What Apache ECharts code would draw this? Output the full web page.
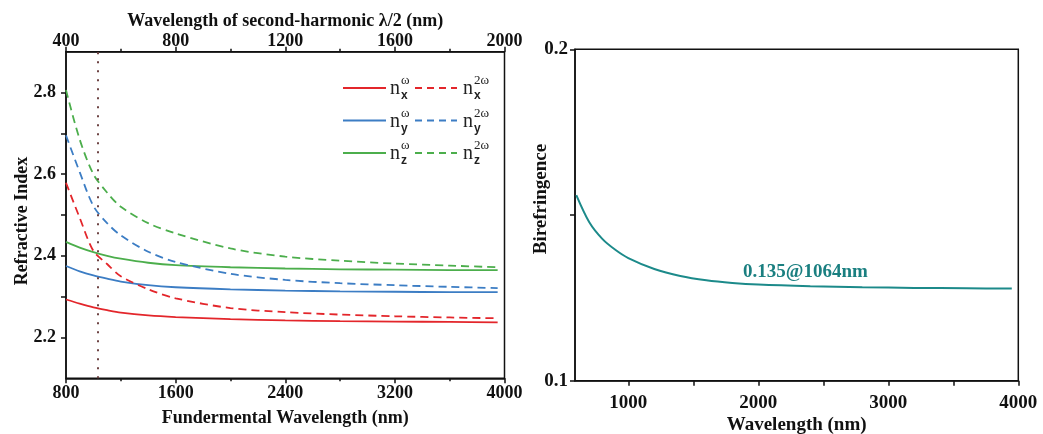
<!DOCTYPE html>
<html>
<head>
<meta charset="utf-8">
<script src="https://cdn.jsdelivr.net/npm/echarts@6/dist/echarts.min.js"></script>
<style>
  html, body { margin: 0; padding: 0; background: #fff; }
  #main { width: 1043px; height: 434px; }
</style>
</head>
<body>
<div id="main"></div>
<script>
// fundamental wavelength (nm), left panel
var wl = [800, 900, 1000, 1100, 1200, 1400, 1600, 2000, 2400, 2800, 3200, 3600, 3950];
var nxW  = [2.293, 2.283, 2.274, 2.267, 2.261, 2.254, 2.250, 2.245, 2.242, 2.240, 2.239, 2.238, 2.237];
var nyW  = [2.375, 2.362, 2.352, 2.344, 2.337, 2.328, 2.323, 2.318, 2.315, 2.313, 2.312, 2.311, 2.311];
var nzW  = [2.434, 2.420, 2.409, 2.400, 2.393, 2.383, 2.377, 2.372, 2.369, 2.367, 2.366, 2.365, 2.365];
var nx2W = [2.579, 2.493, 2.412, 2.380, 2.350, 2.318, 2.296, 2.272, 2.262, 2.256, 2.252, 2.249, 2.247];
var ny2W = [2.695, 2.605, 2.522, 2.480, 2.450, 2.410, 2.385, 2.356, 2.341, 2.333, 2.328, 2.324, 2.321];
var nz2W = [2.806, 2.685, 2.600, 2.555, 2.520, 2.480, 2.455, 2.418, 2.398, 2.388, 2.381, 2.376, 2.372];
var markWl = 1035;

var leftYLabels = [2.2, 2.4, 2.6, 2.8];
var leftYTicks = [2.2, 2.3, 2.4, 2.5, 2.6, 2.7, 2.8];

// birefringence, right panel
var wl2 = [600, 700, 800, 900, 1000, 1200, 1400, 1600, 1800, 2000, 2400, 2800, 3200, 3600, 3950];
var biref = [0.156, 0.1478, 0.1428, 0.1395, 0.1370, 0.1337, 0.1316, 0.1303, 0.1295, 0.1290, 0.1285, 0.1282, 0.1280, 0.1279, 0.1278];
var rightXLabels = [1000, 2000, 3000, 4000];
var rightXTicks = [1000, 1500, 2000, 2500, 3000, 3500, 4000];
var rightYLabels = [0.1, 0.2];
var rightYTicks = [0.1, 0.15, 0.2];

var RED = '#e3262b', BLUE = '#3c7dc4', GREEN = '#4cae4c', TEAL = '#1c8a8a';
var SERIF = 'Liberation Serif';

function pairs(xs, ys) {
  return xs.map(function (x, i) { return [x, ys[i]]; });
}

function lineSeries(name, vals, color, dashed) {
  return {
    name: name,
    type: 'line',
    xAxisIndex: 0,
    yAxisIndex: 0,
    data: pairs(wl, vals),
    smooth: 0.3,
    showSymbol: false,
    lineStyle: { color: color, width: 1.8, type: dashed ? [8, 5] : 'solid' },
    z: 3
  };
}

var plain = function (v) { return String(v); };
var axisText = { fontFamily: SERIF, fontWeight: 'bold', fontSize: 18, color: '#111' };
var nameText = { fontFamily: SERIF, fontWeight: 'bold', fontSize: 18, color: '#111' };
var axLine = { show: true, lineStyle: { color: '#111', width: 1.5 } };

// legend drawn by hand: solid sample, n^w_i, dashed sample, n^2w_i
var legendRows = [
  { color: RED, sub: 'x' },
  { color: BLUE, sub: 'y' },
  { color: GREEN, sub: 'z' }
];
var legendGraphics = [];
legendRows.forEach(function (r, i) {
  var y = 88 + i * 32.5;
  legendGraphics.push(
    { type: 'line', shape: { x1: 343, y1: y, x2: 386, y2: y }, style: { stroke: r.color, lineWidth: 1.8 } },
    { type: 'line', shape: { x1: 415, y1: y, x2: 457, y2: y }, style: { stroke: r.color, lineWidth: 1.8, lineDash: [7, 5] } },
    { type: 'text', x: 390, y: y + 1, style: { text: 'n', font: '20px "Liberation Serif"', fill: '#222', verticalAlign: 'middle' } },
    { type: 'text', x: 401, y: y - 7, style: { text: 'ω', font: '13px "Liberation Serif"', fill: '#222', verticalAlign: 'middle' } },
    { type: 'text', x: 401, y: y + 8, style: { text: r.sub, font: 'bold 12px "Liberation Sans"', fill: '#222', verticalAlign: 'middle' } },
    { type: 'text', x: 463, y: y + 1, style: { text: 'n', font: '20px "Liberation Serif"', fill: '#222', verticalAlign: 'middle' } },
    { type: 'text', x: 474, y: y - 7, style: { text: '2ω', font: '13px "Liberation Serif"', fill: '#222', verticalAlign: 'middle' } },
    { type: 'text', x: 474, y: y + 8, style: { text: r.sub, font: 'bold 12px "Liberation Sans"', fill: '#222', verticalAlign: 'middle' } }
  );
});

var chart = echarts.init(document.getElementById('main'));
chart.setOption({
  backgroundColor: '#fff',
  animation: false,
  grid: [
    { left: 66, right: 538.5, top: 51.7, bottom: 55.7, outerBoundsMode: 'none', show: true, borderColor: '#111', borderWidth: 1.5 },
    { left: 575, right: 24.7, top: 49.3, bottom: 53.3, outerBoundsMode: 'none', show: true, borderColor: '#111', borderWidth: 1.5 }
  ],
  xAxis: [
    {
      gridIndex: 0, type: 'value', min: 800, max: 4000, interval: 800,
      name: 'Fundermental Wavelength (nm)', nameLocation: 'middle', nameGap: 31, nameMoveOverlap: false, nameTextStyle: nameText,
      axisLine: axLine,
      axisTick: { show: true, length: 5, lineStyle: { color: '#111', width: 1.5 } },
      minorTick: { show: true, splitNumber: 2, length: 3, lineStyle: { color: '#111', width: 1.5 } },
      axisLabel: Object.assign({ margin: 6, formatter: plain }, axisText),
      splitLine: { show: false }
    },
    {
      gridIndex: 0, type: 'value', position: 'top', min: 400, max: 2000, interval: 400,
      name: 'Wavelength of second-harmonic λ/2 (nm)', nameLocation: 'middle', nameGap: 21, nameMoveOverlap: false, nameTextStyle: nameText,
      axisLine: axLine,
      axisTick: { show: true, length: 5, lineStyle: { color: '#111', width: 1.5 } },
      minorTick: { show: true, splitNumber: 2, length: 3, lineStyle: { color: '#111', width: 1.5 } },
      axisLabel: Object.assign({ margin: 1, formatter: plain }, axisText),
      splitLine: { show: false }
    },
    {
      gridIndex: 1, type: 'value', min: 590, max: 4000,
      name: 'Wavelength (nm)', nameLocation: 'middle', nameGap: 35, nameMoveOverlap: false,
      nameTextStyle: Object.assign({}, nameText, { fontSize: 19 }),
      axisLine: axLine,
      axisTick: { show: true, length: 5, customValues: rightXTicks, lineStyle: { color: '#111', width: 1.5 } },
      axisLabel: Object.assign({ margin: 13, customValues: rightXLabels, formatter: plain }, axisText, { fontSize: 19 }),
      splitLine: { show: false }
    }
  ],
  yAxis: [
    {
      gridIndex: 0, type: 'value', min: 2.1, max: 2.9,
      name: 'Refractive Index', nameLocation: 'middle', nameGap: 35, nameMoveOverlap: false,
      nameTextStyle: Object.assign({}, nameText, { padding: [0, 12, 0, 0] }),
      axisLine: axLine,
      axisTick: { show: true, length: 5, customValues: leftYTicks, lineStyle: { color: '#111', width: 1.5 } },
      axisLabel: Object.assign({ margin: 10, customValues: leftYLabels, formatter: function (v) { return v.toFixed(1); } }, axisText),
      splitLine: { show: false }
    },
    {
      gridIndex: 1, type: 'value', min: 0.1, max: 0.2,
      name: 'Birefringence', nameLocation: 'middle', nameGap: 24, nameMoveOverlap: false,
      nameTextStyle: Object.assign({}, nameText, { fontSize: 19, padding: [0, 0, 0, 32] }),
      axisLine: axLine,
      axisTick: { show: true, length: 5, customValues: rightYTicks, lineStyle: { color: '#111', width: 1.5 } },
      axisLabel: Object.assign({ margin: 7, customValues: rightYLabels, formatter: function (v) { return v.toFixed(1); } }, axisText, { fontSize: 19 }),
      splitLine: { show: false }
    }
  ],
  graphic: legendGraphics.concat([
    { type: 'text', x: 743, y: 272, style: { text: '0.135@1064nm', font: 'bold 19px "Liberation Serif"', fill: '#1a7f80', verticalAlign: 'middle' } }
  ]),
  series: [
    lineSeries('nxw', nxW, RED, false),
    lineSeries('nyw', nyW, BLUE, false),
    lineSeries('nzw', nzW, GREEN, false),
    lineSeries('nx2w', nx2W, RED, true),
    lineSeries('ny2w', ny2W, BLUE, true),
    lineSeries('nz2w', nz2W, GREEN, true),
    {
      name: 'mark', type: 'line', xAxisIndex: 0, yAxisIndex: 0, data: [],
      markLine: {
        silent: true, symbol: 'none', label: { show: false },
        lineStyle: { color: '#6e4444', width: 2, type: [2, 7] },
        data: [{ xAxis: markWl }]
      }
    },
    {
      name: 'biref', type: 'line', xAxisIndex: 2, yAxisIndex: 1,
      data: pairs(wl2, biref), smooth: 0.3, showSymbol: false,
      lineStyle: { color: TEAL, width: 2 }
    }
  ]
});
</script>
</body>
</html>
